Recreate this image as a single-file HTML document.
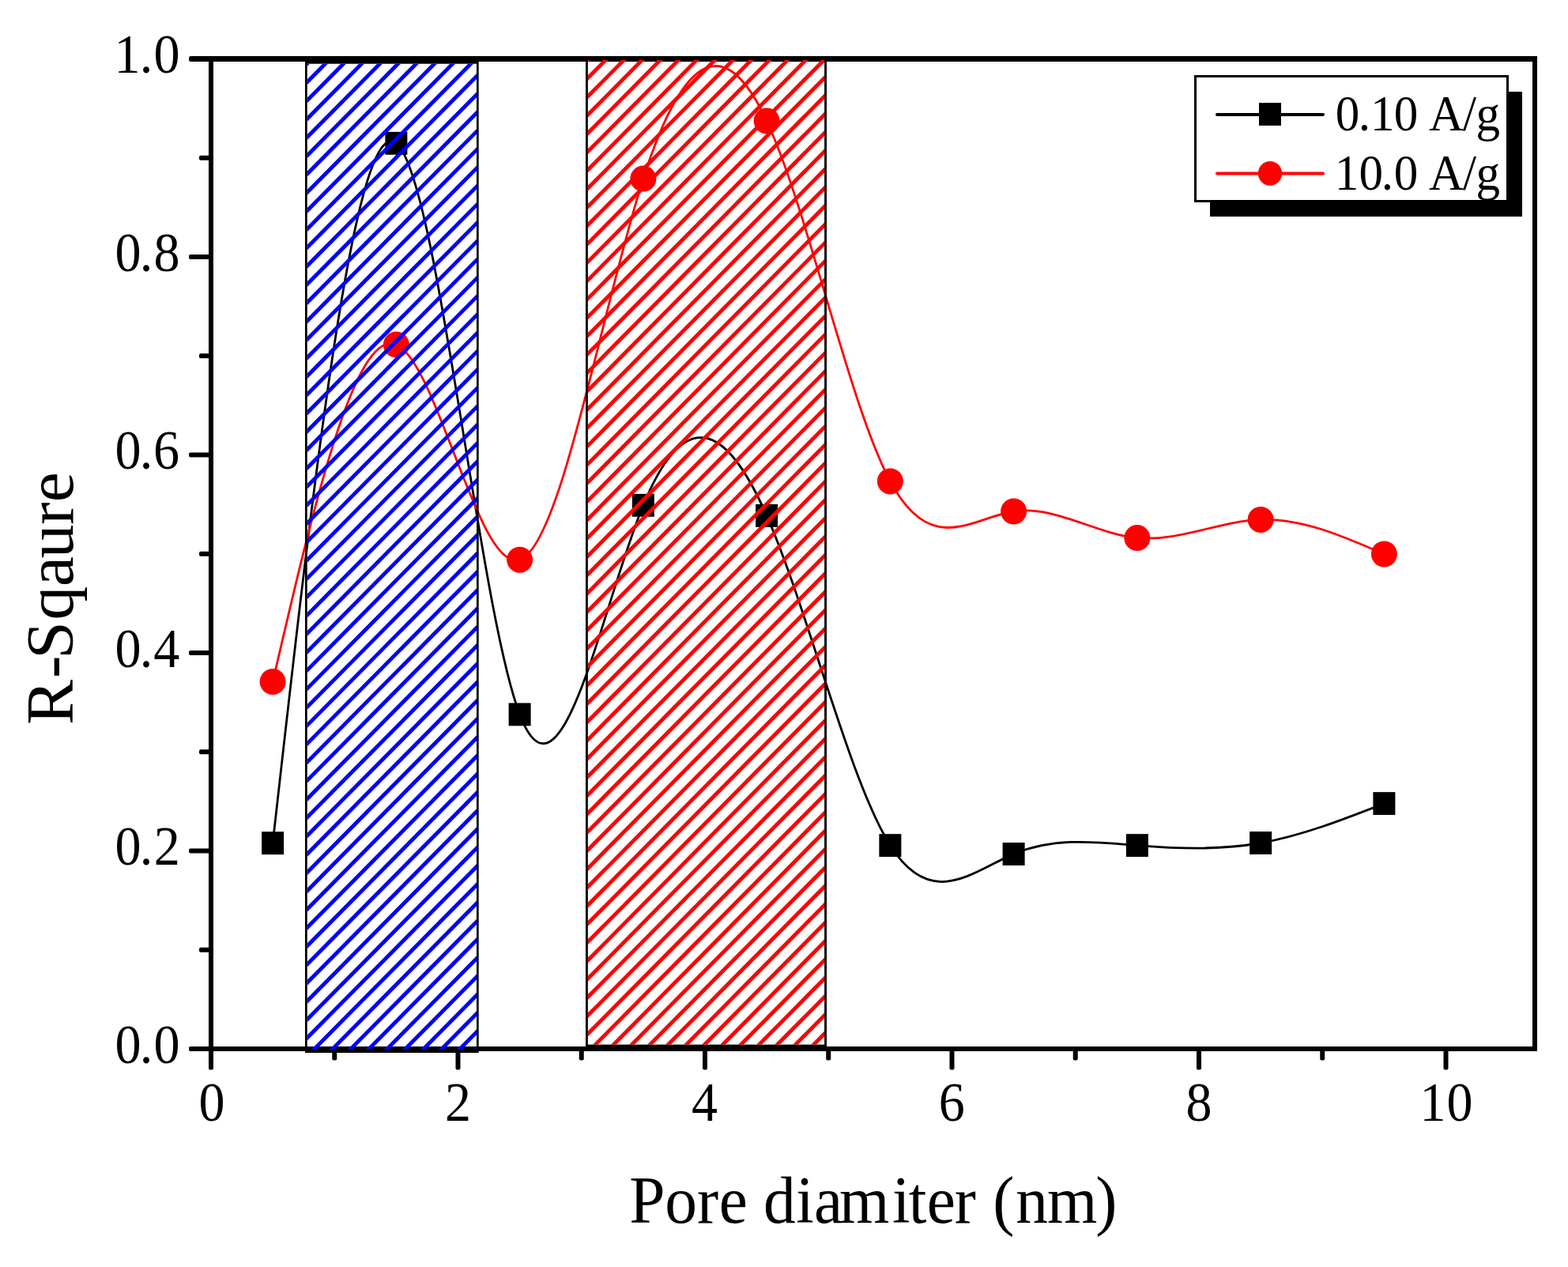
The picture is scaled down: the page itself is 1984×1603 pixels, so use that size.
<!DOCTYPE html><html><head><meta charset="utf-8"><title>R-Square vs pore diameter</title><style>html,body{margin:0;padding:0;background:#fff;overflow:hidden;}svg{display:block;}text{font-family:"Liberation Serif","Times New Roman",serif;fill:#000;}</style></head><body>
<svg width="1984" height="1603" viewBox="0 0 1984 1603">
<rect x="0" y="0" width="1984" height="1603" fill="#fff"/>
<path d="M345.12,1066.70 C397.21,603.42 449.29,140.13 501.38,181.30 C553.46,222.47 605.54,768.08 657.62,903.90 C709.71,1039.72 761.79,765.75 813.88,639.30 C865.96,512.85 918.04,533.93 970.12,652.40 C1022.21,770.87 1074.29,986.75 1126.38,1069.60 C1178.46,1152.45 1230.54,1102.28 1282.62,1080.50 C1334.71,1058.72 1386.79,1065.35 1438.88,1069.60 C1490.96,1073.85 1543.04,1075.73 1595.12,1066.50 C1647.21,1057.27 1699.29,1036.94 1751.38,1016.60" fill="none" stroke="#000" stroke-width="2.8"/>
<path d="M345.12,862.50 C397.21,638.41 449.29,414.32 501.38,436.10 C553.46,457.88 605.54,725.53 657.62,708.20 C709.71,690.87 761.79,388.56 813.88,226.10 C865.96,63.64 918.04,41.04 970.12,153.00 C1022.21,264.96 1074.29,511.47 1126.38,608.90 C1178.46,706.33 1230.54,654.68 1282.62,647.00 C1334.71,639.32 1386.79,675.63 1438.88,680.60 C1490.96,685.57 1543.04,659.22 1595.12,657.40 C1647.21,655.58 1699.29,678.29 1751.38,701.00" fill="none" stroke="#f00" stroke-width="2.8"/>
<rect x="331.12" y="1052.25" width="28" height="28.9" fill="#000"/>
<rect x="487.38" y="166.85" width="28" height="28.9" fill="#000"/>
<rect x="643.62" y="889.45" width="28" height="28.9" fill="#000"/>
<rect x="799.88" y="624.85" width="28" height="28.9" fill="#000"/>
<rect x="956.12" y="637.95" width="28" height="28.9" fill="#000"/>
<rect x="1112.38" y="1055.15" width="28" height="28.9" fill="#000"/>
<rect x="1268.62" y="1066.05" width="28" height="28.9" fill="#000"/>
<rect x="1424.88" y="1055.15" width="28" height="28.9" fill="#000"/>
<rect x="1581.12" y="1052.05" width="28" height="28.9" fill="#000"/>
<rect x="1737.38" y="1002.15" width="28" height="28.9" fill="#000"/>
<ellipse cx="345.12" cy="862.50" rx="16.5" ry="16.5" fill="#f00"/>
<ellipse cx="501.38" cy="436.10" rx="16.5" ry="16.5" fill="#f00"/>
<ellipse cx="657.62" cy="708.20" rx="16.5" ry="16.5" fill="#f00"/>
<ellipse cx="813.88" cy="226.10" rx="16.5" ry="16.5" fill="#f00"/>
<ellipse cx="970.12" cy="153.00" rx="16.5" ry="16.5" fill="#f00"/>
<ellipse cx="1126.38" cy="608.90" rx="16.5" ry="16.5" fill="#f00"/>
<ellipse cx="1282.62" cy="647.00" rx="16.5" ry="16.5" fill="#f00"/>
<ellipse cx="1438.88" cy="680.60" rx="16.5" ry="16.5" fill="#f00"/>
<ellipse cx="1595.12" cy="657.40" rx="16.5" ry="16.5" fill="#f00"/>
<ellipse cx="1751.38" cy="701.00" rx="16.5" ry="16.5" fill="#f00"/>
<g fill="#000">
<rect x="264" y="71" width="1681" height="7" rx="1.2"/>
<rect x="264" y="1324" width="1681" height="6" rx="1.2"/>
<rect x="264" y="71" width="6" height="1259" rx="1.2"/>
<rect x="1939" y="71" width="6" height="1259" rx="1.2"/>
<rect x="239" y="1324.00" width="27" height="6" rx="2"/>
<rect x="252" y="1198.74" width="14" height="6" rx="2"/>
<rect x="239" y="1073.48" width="27" height="6" rx="2"/>
<rect x="252" y="948.22" width="14" height="6" rx="2"/>
<rect x="239" y="822.96" width="27" height="6" rx="2"/>
<rect x="252" y="697.70" width="14" height="6" rx="2"/>
<rect x="239" y="572.44" width="27" height="6" rx="2"/>
<rect x="252" y="447.18" width="14" height="6" rx="2"/>
<rect x="239" y="321.92" width="27" height="6" rx="2"/>
<rect x="252" y="196.66" width="14" height="6" rx="2"/>
<rect x="239" y="71" width="30" height="7" rx="2.5"/>
<rect x="264.00" y="1326" width="6" height="27.5" rx="2"/>
<rect x="420.25" y="1326" width="6" height="15.5" rx="2"/>
<rect x="576.50" y="1326" width="6" height="27.5" rx="2"/>
<rect x="732.75" y="1326" width="6" height="15.5" rx="2"/>
<rect x="889.00" y="1326" width="6" height="27.5" rx="2"/>
<rect x="1045.25" y="1326" width="6" height="15.5" rx="2"/>
<rect x="1201.50" y="1326" width="6" height="27.5" rx="2"/>
<rect x="1357.75" y="1326" width="6" height="15.5" rx="2"/>
<rect x="1514.00" y="1326" width="6" height="27.5" rx="2"/>
<rect x="1670.25" y="1326" width="6" height="15.5" rx="2"/>
<rect x="1826.50" y="1326" width="6" height="27.5" rx="2"/>
</g>
<defs></defs>
<clipPath id="cb"><rect x="388.7" y="80.7" width="214.30" height="1247.50"/></clipPath><path clip-path="url(#cb)" d="M385.29,60.70L-889.20,1348.20M408.31,60.70L-866.18,1348.20M431.33,60.70L-843.16,1348.20M454.35,60.70L-820.14,1348.20M477.37,60.70L-797.12,1348.20M500.39,60.70L-774.10,1348.20M523.41,60.70L-751.08,1348.20M546.43,60.70L-728.06,1348.20M569.45,60.70L-705.04,1348.20M592.47,60.70L-682.02,1348.20M615.49,60.70L-659.00,1348.20M638.51,60.70L-635.98,1348.20M661.53,60.70L-612.96,1348.20M684.55,60.70L-589.94,1348.20M707.57,60.70L-566.92,1348.20M730.59,60.70L-543.90,1348.20M753.61,60.70L-520.88,1348.20M776.63,60.70L-497.86,1348.20M799.65,60.70L-474.84,1348.20M822.67,60.70L-451.82,1348.20M845.69,60.70L-428.80,1348.20M868.71,60.70L-405.78,1348.20M891.73,60.70L-382.76,1348.20M914.75,60.70L-359.74,1348.20M937.77,60.70L-336.72,1348.20M960.79,60.70L-313.70,1348.20M983.81,60.70L-290.68,1348.20M1006.83,60.70L-267.66,1348.20M1029.85,60.70L-244.64,1348.20M1052.87,60.70L-221.62,1348.20M1075.89,60.70L-198.60,1348.20M1098.91,60.70L-175.58,1348.20M1121.93,60.70L-152.56,1348.20M1144.95,60.70L-129.54,1348.20M1167.97,60.70L-106.52,1348.20M1190.99,60.70L-83.50,1348.20M1214.01,60.70L-60.48,1348.20M1237.03,60.70L-37.46,1348.20M1260.05,60.70L-14.44,1348.20M1283.07,60.70L8.58,1348.20M1306.09,60.70L31.60,1348.20M1329.11,60.70L54.62,1348.20M1352.13,60.70L77.64,1348.20M1375.15,60.70L100.66,1348.20M1398.17,60.70L123.68,1348.20M1421.19,60.70L146.70,1348.20M1444.21,60.70L169.72,1348.20M1467.23,60.70L192.74,1348.20M1490.25,60.70L215.76,1348.20M1513.27,60.70L238.78,1348.20M1536.29,60.70L261.80,1348.20M1559.31,60.70L284.82,1348.20M1582.33,60.70L307.84,1348.20M1605.35,60.70L330.86,1348.20M1628.37,60.70L353.88,1348.20M1651.39,60.70L376.90,1348.20M1674.41,60.70L399.92,1348.20M1697.43,60.70L422.94,1348.20M1720.45,60.70L445.96,1348.20M1743.47,60.70L468.98,1348.20M1766.49,60.70L492.00,1348.20M1789.51,60.70L515.02,1348.20M1812.53,60.70L538.04,1348.20M1835.55,60.70L561.06,1348.20M1858.57,60.70L584.08,1348.20M1881.59,60.70L607.10,1348.20" stroke="#0000ff" stroke-width="4.868" fill="none"/>
<rect x="387.35" y="79.35" width="217" height="1251.3" fill="none" stroke="#000" stroke-width="2.7"/>
<clipPath id="cr"><rect x="744.0" y="75.8" width="299.10" height="1245.60"/></clipPath><path clip-path="url(#cr)" d="M740.27,55.80L-532.33,1341.40M763.29,55.80L-509.31,1341.40M786.31,55.80L-486.29,1341.40M809.33,55.80L-463.27,1341.40M832.35,55.80L-440.25,1341.40M855.37,55.80L-417.23,1341.40M878.39,55.80L-394.21,1341.40M901.41,55.80L-371.19,1341.40M924.43,55.80L-348.17,1341.40M947.45,55.80L-325.15,1341.40M970.47,55.80L-302.13,1341.40M993.49,55.80L-279.11,1341.40M1016.51,55.80L-256.09,1341.40M1039.53,55.80L-233.07,1341.40M1062.55,55.80L-210.05,1341.40M1085.57,55.80L-187.03,1341.40M1108.59,55.80L-164.01,1341.40M1131.61,55.80L-140.99,1341.40M1154.63,55.80L-117.97,1341.40M1177.65,55.80L-94.95,1341.40M1200.67,55.80L-71.93,1341.40M1223.69,55.80L-48.91,1341.40M1246.71,55.80L-25.89,1341.40M1269.73,55.80L-2.87,1341.40M1292.75,55.80L20.15,1341.40M1315.77,55.80L43.17,1341.40M1338.79,55.80L66.19,1341.40M1361.81,55.80L89.21,1341.40M1384.83,55.80L112.23,1341.40M1407.85,55.80L135.25,1341.40M1430.87,55.80L158.27,1341.40M1453.89,55.80L181.29,1341.40M1476.91,55.80L204.31,1341.40M1499.93,55.80L227.33,1341.40M1522.95,55.80L250.35,1341.40M1545.97,55.80L273.37,1341.40M1568.99,55.80L296.39,1341.40M1592.01,55.80L319.41,1341.40M1615.03,55.80L342.43,1341.40M1638.05,55.80L365.45,1341.40M1661.07,55.80L388.47,1341.40M1684.09,55.80L411.49,1341.40M1707.11,55.80L434.51,1341.40M1730.13,55.80L457.53,1341.40M1753.15,55.80L480.55,1341.40M1776.17,55.80L503.57,1341.40M1799.19,55.80L526.59,1341.40M1822.21,55.80L549.61,1341.40M1845.23,55.80L572.63,1341.40M1868.25,55.80L595.65,1341.40M1891.27,55.80L618.67,1341.40M1914.29,55.80L641.69,1341.40M1937.31,55.80L664.71,1341.40M1960.33,55.80L687.73,1341.40M1983.35,55.80L710.75,1341.40M2006.37,55.80L733.77,1341.40M2029.39,55.80L756.79,1341.40M2052.41,55.80L779.81,1341.40M2075.43,55.80L802.83,1341.40M2098.45,55.80L825.85,1341.40M2121.47,55.80L848.87,1341.40M2144.49,55.80L871.89,1341.40M2167.51,55.80L894.91,1341.40M2190.53,55.80L917.93,1341.40M2213.55,55.80L940.95,1341.40M2236.57,55.80L963.97,1341.40M2259.59,55.80L986.99,1341.40M2282.61,55.80L1010.01,1341.40M2305.63,55.80L1033.03,1341.40M2328.65,55.80L1056.05,1341.40" stroke="#ff0000" stroke-width="4.868" fill="none"/>
<rect x="742.45" y="74.45" width="302.1" height="1248.6" fill="none" stroke="#000" stroke-width="2.9"/>
<text x="153.10 186.02 204.68" y="1344.80" font-size="69.7" transform="scale(0.95 1)">0.0</text>
<text x="153.10 186.02 205.06" y="1094.28" font-size="69.7" transform="scale(0.95 1)">0.2</text>
<text x="153.10 186.02 204.54" y="843.76" font-size="69.7" transform="scale(0.95 1)">0.4</text>
<text x="153.10 186.02 204.23" y="593.24" font-size="69.7" transform="scale(0.95 1)">0.6</text>
<text x="153.10 186.02 204.68" y="342.72" font-size="69.7" transform="scale(0.95 1)">0.8</text>
<text x="152.13 186.02 204.68" y="92.20" font-size="69.7" transform="scale(0.95 1)">1.0</text>
<text x="264.73" y="1418.30" font-size="69.5" transform="scale(0.95 1)">0</text>
<text x="592.59" y="1418.30" font-size="69.5" transform="scale(0.95 1)">2</text>
<text x="921.01" y="1418.30" font-size="69.5" transform="scale(0.95 1)">4</text>
<text x="1250.38" y="1418.30" font-size="69.5" transform="scale(0.95 1)">6</text>
<text x="1579.57" y="1418.30" font-size="69.5" transform="scale(0.95 1)">8</text>
<text x="1891.13 1926.84" y="1418.30" font-size="69.5" transform="scale(0.95 1)">10</text>
<text x="837.21 884.73 927.48 956.51 1006.99 1015.82 1059.19 1083.12 1116.66 1187.21 1208.89 1233.17 1269.96 1310.28 1321.07 1351.42 1393.31 1457.70" y="1547.00" font-size="85.7" transform="scale(0.951 1)">Pore diamiter (nm)</text>
<text x="-916.91 -857.88 -833.68 -784.54 -741.98 -706.20 -664.11 -635.15" y="0" font-size="85.5" transform="translate(92.1 0) rotate(-90) scale(1.0 1)">R-Sqaure</text>
<rect x="1531" y="116" width="395" height="158" fill="#000"/>
<rect x="1512.5" y="96.5" width="395" height="158" fill="#fff" stroke="#000" stroke-width="3"/>
<line x1="1540" y1="145" x2="1674" y2="145" stroke="#000" stroke-width="4" stroke-linecap="round"/>
<rect x="1593" y="130.1" width="28" height="28.8" fill="#000"/>
<line x1="1540" y1="219.5" x2="1674" y2="219.5" stroke="#f00" stroke-width="4" stroke-linecap="round"/>
<ellipse cx="1607" cy="219.3" rx="15.2" ry="15.4" fill="#f00"/>
<text x="1741.93 1772.02 1787.59 1818.27 1860.41 1863.97 1908.36 1925.25" y="164.70" font-size="63.0" transform="scale(0.97 1)">0.10 A/g</text>
<text x="1741.10 1772.81 1801.71 1818.27 1860.41 1863.97 1908.36 1925.25" y="239.70" font-size="63.0" transform="scale(0.97 1)">10.0 A/g</text>
</svg></body></html>
